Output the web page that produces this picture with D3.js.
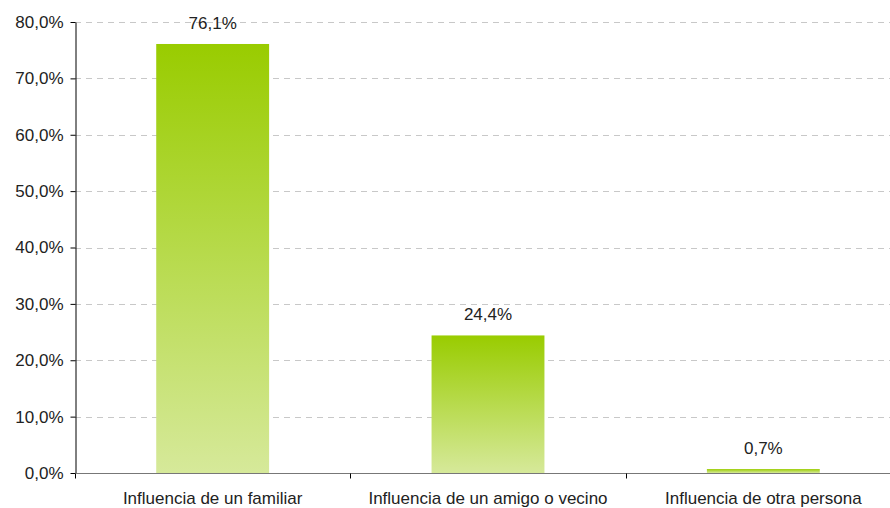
<!DOCTYPE html>
<html>
<head>
<meta charset="utf-8">
<script src="https://cdn.jsdelivr.net/npm/d3@7"></script>
<style>
  body { margin: 0; background: #fff; }
  svg { display: block; font-family: "Liberation Sans", Arial, sans-serif; }
</style>
</head>
<body>
<svg width="890" height="508"></svg>
<script>
// Chart data
var categories = ['Influencia de un familiar', 'Influencia de un amigo o vecino', 'Influencia de otra persona'];
var values = [76.1, 24.4, 0.7];
var yTicks = [0, 10, 20, 30, 40, 50, 60, 70, 80];

var svg = d3.select('svg');

// Plot area (right side runs past the picture edge)
var margin = { top: 22, left: 75, bottom: 35 };
var plotRight = 901;
var height = 508 - margin.bottom;
var fontSize = 17;

var x = d3.scaleBand()
  .domain(categories)
  .range([margin.left, plotRight])
  .paddingInner(0.59)
  .paddingOuter(0.295);

var xOuter = d3.scaleBand()
  .domain(categories)
  .range([margin.left, plotRight]);

var y = d3.scaleLinear()
  .domain([0, 80])
  .range([height, margin.top]);

var fmt = function (d) { return d.toFixed(1).replace('.', ',') + '%'; };

// Gradient for the bars
var grad = svg.append('defs')
  .append('linearGradient')
  .attr('id', 'barGrad')
  .attr('x1', 0).attr('y1', 0).attr('x2', 0).attr('y2', 1);
grad.append('stop').attr('offset', '0%').attr('stop-color', '#99cc00');
grad.append('stop').attr('offset', '100%').attr('stop-color', '#d6e99a');

// Gridlines
svg.append('g')
  .selectAll('line')
  .data(yTicks.filter(function (d) { return d > 0; }))
  .enter()
  .append('line')
  .attr('x1', margin.left)
  .attr('x2', 890)
  .attr('y1', function (d) { return Math.round(y(d)) + 0.5; })
  .attr('y2', function (d) { return Math.round(y(d)) + 0.5; })
  .attr('stroke', '#c8c8c8')
  .attr('stroke-dasharray', '6,5');

// Bars
svg.append('g')
  .selectAll('rect')
  .data(values)
  .enter()
  .append('rect')
  .attr('x', function (d, i) { return x(categories[i]); })
  .attr('y', function (d) { return y(d); })
  .attr('width', x.bandwidth())
  .attr('height', function (d) { return height - y(d); })
  .attr('fill', 'url(#barGrad)');

// Value labels
svg.append('g')
  .selectAll('text')
  .data(values)
  .enter()
  .append('text')
  .attr('x', function (d, i) { return x(categories[i]) + x.bandwidth() / 2; })
  .attr('y', function (d) { return y(d) - 15; })
  .attr('text-anchor', 'middle')
  .attr('font-size', fontSize)
  .attr('fill', '#222')
  .text(fmt);

// Y axis
var yAxis = svg.append('g')
  .attr('transform', 'translate(' + (margin.left + 0.5) + ',0)')
  .call(d3.axisLeft(y).tickValues(yTicks).tickFormat(fmt).tickSize(5).tickSizeOuter(0));
yAxis.select('.domain').attr('stroke', '#000');
yAxis.selectAll('.tick line').attr('stroke', '#000');
yAxis.selectAll('.tick text')
  .attr('font-size', fontSize)
  .attr('font-family', '"Liberation Sans", Arial, sans-serif')
  .attr('fill', '#222')
  .attr('x', -12);

// X axis
var xAxis = svg.append('g')
  .attr('transform', 'translate(0,' + (height + 0.5) + ')');
xAxis.append('line')
  .attr('x1', margin.left)
  .attr('x2', 890)
  .attr('stroke', '#777');
xAxis.selectAll('.cat-tick')
  .data(categories)
  .enter()
  .append('line')
  .attr('class', 'cat-tick')
  .attr('x1', function (d) { return Math.round(xOuter(d)) + 0.5; })
  .attr('x2', function (d) { return Math.round(xOuter(d)) + 0.5; })
  .attr('y1', 0)
  .attr('y2', 5)
  .attr('stroke', '#000');
xAxis.selectAll('.cat-label')
  .data(categories)
  .enter()
  .append('text')
  .attr('class', 'cat-label')
  .attr('x', function (d) { return xOuter(d) + xOuter.bandwidth() / 2; })
  .attr('y', 30)
  .attr('text-anchor', 'middle')
  .attr('font-size', fontSize)
  .attr('fill', '#222')
  .text(function (d) { return d; });
</script>
</body>
</html>
